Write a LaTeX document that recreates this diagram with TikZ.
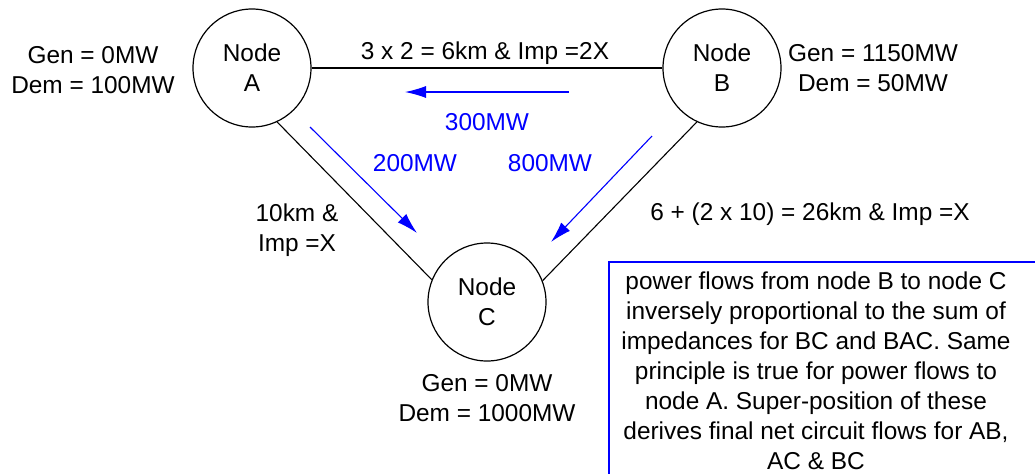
\documentclass[tikz,border=0pt]{standalone}
\usepackage{fontspec}
\setmainfont{Liberation Sans}
\usetikzlibrary{arrows.meta}
\definecolor{FlowBlue}{rgb}{0, 0, 1}

\tikzset{
	busnode/.style={draw, circle, minimum size=59pt, inner sep=0pt, line width=0.6pt, align=center},
	txt/.style={inner sep=0pt, align=center},
	flow/.style={FlowBlue, line width=0.55pt, -{Latex[length=10.5pt, width=6pt]}},
	line/.style={line width=0.55pt}
}

\begin{document}
\begin{tikzpicture}[x=0.5pt,y=0.5pt,yscale=-1,xscale=1, font=\fontsize{12.2pt}{15pt}\selectfont]
		% Set diagram size to 1035 x 473
		\useasboundingbox (0,0) rectangle (1035,473);
		\clip (0,0) rectangle (1035,473);

		% The three nodes
		\node[busnode] (A) at (252,68) {Node\\A};
		\node[busnode] (B) at (722,68) {Node\\B};
		\node[busnode] (C) at (487,302) {Node\\C};

		% Lines between the nodes
		\draw[line] (A.east) -- (B.west);
		\draw[line] (A.-65) -- (C.158);
		\draw[line] (B.-115) -- (C.21);

		% Gen and Dem at each node
		\node[txt] (genA) at (93,70) {Gen = 0MW\\Dem = 100MW};
		\node[txt] (genB) at (873,68) {Gen = 1150MW\\Dem = 50MW};
		\node[txt] (genC) at (487,398) {Gen = 0MW\\Dem = 1000MW};

		% Line lengths and impedances
		\node[txt] (lenAB) at (485,53) {3 x 2 = 6km \& Imp =2X};
		\node[txt] (lenAC) at (297,230) {10km \&\\Imp =X};
		\node[txt] (lenBC) at (810,214) {6 + (2 x 10) = 26km \& Imp =X};

		% The blue flow arrows
		\coordinate (ab1) at (569,92);
		\coordinate (ab2) at (405,92);
		\coordinate (ac1) at (310,127);
		\coordinate (ac2) at (417,233);
		\coordinate (bc1) at (652,136);
		\coordinate (bc2) at (551,242);
		\draw[flow] (ab1) -- (ab2);
		\draw[flow] (ac1) -- (ac2);
		\draw[flow] (bc1) -- (bc2);

		% The flow values in blue
		\node[txt, FlowBlue] (flowAB) at (487,122) {300MW};
		\node[txt, FlowBlue] (flowAC) at (415,163) {200MW};
		\node[txt, FlowBlue] (flowBC) at (550,163) {800MW};

		% The note box (runs off the right and bottom edge)
		\draw[FlowBlue, line width=0.55pt] (609,262) rectangle (1100,540);
		\node[txt] (note) at (816,371) {power flows from node B to node C\\inversely proportional to the sum of\\impedances for BC and BAC. Same\\principle is true for power flows to\\node A. Super-position of these\\derives final net circuit flows for AB,\\AC \& BC};
	\end{tikzpicture}
\end{document}
